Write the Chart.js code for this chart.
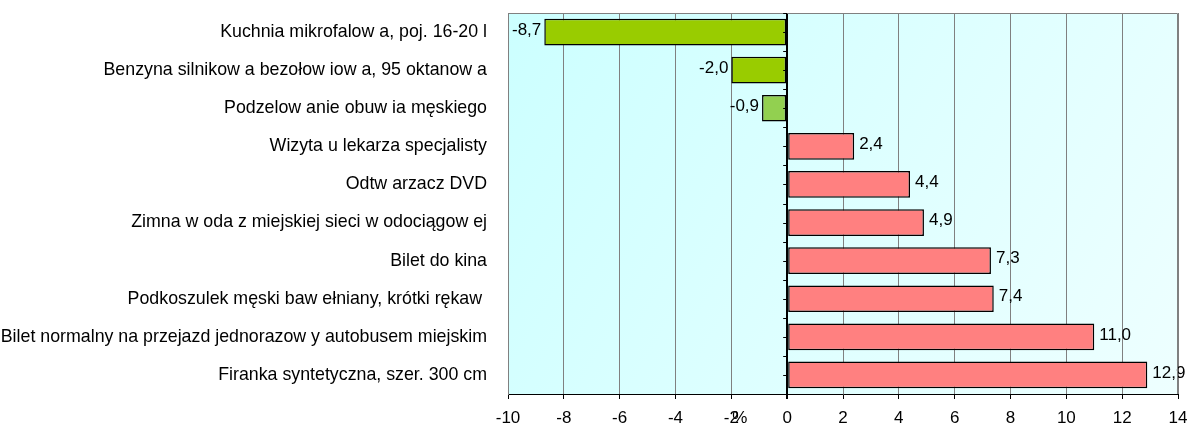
<!DOCTYPE html>
<html>
<head>
<meta charset="utf-8">
<title>Zmiany cen</title>
<script src="https://cdn.jsdelivr.net/npm/chart.js"></script>
<style>
  body { margin:0; background:#fff; }
  #wrap { width:1189px; height:425px; }
</style>
</head>
<body>
<div id="wrap"><canvas id="chart" width="1189" height="425"></canvas></div>
<script>
// dane
const categories = [
  "Kuchnia mikrofalow a, poj. 16-20 l",
  "Benzyna silnikow a bezołow iow a, 95 oktanow a",
  "Podzelow anie obuw ia męskiego",
  "Wizyta u lekarza specjalisty",
  "Odtw arzacz DVD",
  "Zimna w oda z miejskiej sieci w odociągow ej",
  "Bilet do kina",
  "Podkoszulek męski baw ełniany, krótki rękaw ",
  "Bilet normalny na przejazd jednorazow y autobusem miejskim",
  "Firanka syntetyczna, szer. 300 cm"
];
const values = [-8.7, -2.0, -0.9, 2.4, 4.4, 4.9, 7.3, 7.4, 11.0, 12.9];
const xTicks = [-10, -8, -6, -4, -2, 0, 2, 4, 6, 8, 10, 12, 14];
const barColors = ["#99CC00", "#99CC00", "#92D050", "#FF8080", "#FF8080", "#FF8080", "#FF8080", "#FF8080", "#FF8080", "#FF8080"];

const FONT = "'Liberation Sans', Arial, sans-serif";
const FS = 17;
const TICK_LEN = 5, TICK_PAD = 9;

const plotBg = {
  id: "plotBg",
  beforeDraw(chart) {
    const a = chart.chartArea, c = chart.ctx;
    const g = c.createLinearGradient(a.left, a.top, a.right, a.bottom);
    g.addColorStop(0, "#CCFFFF");
    g.addColorStop(1, "#EEFFFF");
    c.save();
    c.fillStyle = g;
    c.fillRect(a.left, a.top, a.right - a.left, a.bottom - a.top);
    c.restore();
  },
  afterDraw(chart) {
    const a = chart.chartArea, c = chart.ctx;
    c.save();
    c.strokeStyle = "#808080";
    c.lineWidth = 1;
    c.beginPath();
    c.moveTo(a.left + 0.5, a.bottom);
    c.lineTo(a.left + 0.5, a.top + 0.5);
    c.lineTo(a.right - 0.5, a.top + 0.5);
    c.lineTo(a.right - 0.5, a.bottom);
    c.stroke();
    // znaczniki na osi zero
    const x0 = chart.scales.x.getPixelForValue(0);
    const y = chart.scales.y;
    const half = (y.getPixelForValue(1) - y.getPixelForValue(0)) / 2;
    c.strokeStyle = "#000";
    c.beginPath();
    for (let i = 0; i < categories.length; i++) {
      const yc = y.getPixelForValue(i);
      c.moveTo(x0 - 4, Math.round(yc) + 0.5); c.lineTo(x0, Math.round(yc) + 0.5);
      c.moveTo(x0 - 4, Math.round(yc - half) + 0.5); c.lineTo(x0, Math.round(yc - half) + 0.5);
    }
    c.stroke();
    // tytuł osi
    c.fillStyle = "#000";
    c.font = FS + "px " + FONT;
    c.textAlign = "center";
    c.textBaseline = "middle";
    c.fillText("%", chart.scales.x.getPixelForValue(-1.7), chart.scales.x.top + TICK_LEN + TICK_PAD + FS * 0.6);
    c.restore();
  }
};

const valueLabels = {
  id: "valueLabels",
  afterDatasetsDraw(chart) {
    const c = chart.ctx;
    const meta = chart.getDatasetMeta(0);
    c.save();
    c.font = FS + "px " + FONT;
    c.fillStyle = "#000";
    c.textBaseline = "middle";
    meta.data.forEach((bar, i) => {
      const v = values[i];
      const txt = v.toFixed(1).replace(".", ",");
      if (v < 0) {
        c.textAlign = "right";
        c.fillText(txt, bar.x - 3, bar.y - 2);
      } else {
        c.textAlign = "left";
        c.fillText(txt, bar.x + 5, bar.y - 2);
      }
    });
    c.restore();
  }
};

new Chart(document.getElementById("chart"), {
  type: "bar",
  data: {
    labels: categories,
    datasets: [{
      data: values,
      backgroundColor: barColors,
      borderColor: "#000",
      borderWidth: 1.5,
      borderSkipped: false,
      barPercentage: 0.7,
      categoryPercentage: 1
    }]
  },
  options: {
    indexAxis: "y",
    responsive: false,
    animation: false,
    layout: { padding: { top: 13, right: 11, left: 0, bottom: 0 } },
    plugins: { legend: { display: false }, tooltip: { enabled: false } },
    scales: {
      x: {
        min: -10, max: 14,
        afterBuildTicks: s => { s.ticks = xTicks.map(v => ({ value: v })); },
        afterFit: s => { s.height = 31; s.paddingLeft = 0; s.paddingRight = 0; },
        ticks: { color: "#000", font: { family: FONT, size: FS }, padding: TICK_PAD },
        grid: {
          color: ctx => ctx.tick && ctx.tick.value === 0 ? "#000" : "#808080",
          lineWidth: ctx => ctx.tick && ctx.tick.value === 0 ? 2 : 1,
          tickColor: "#000",
          tickLength: TICK_LEN
        },
        border: { color: "#000", width: 1 }
      },
      y: {
        afterFit: s => { s.width = 508; s.paddingTop = 0; s.paddingBottom = 0; },
        ticks: { color: "#000", font: { family: FONT, size: 17.8 }, padding: 13 },
        grid: { display: false },
        border: { color: "#808080", width: 1 }
      }
    }
  },
  plugins: [plotBg, valueLabels]
});
</script>
</body>
</html>
